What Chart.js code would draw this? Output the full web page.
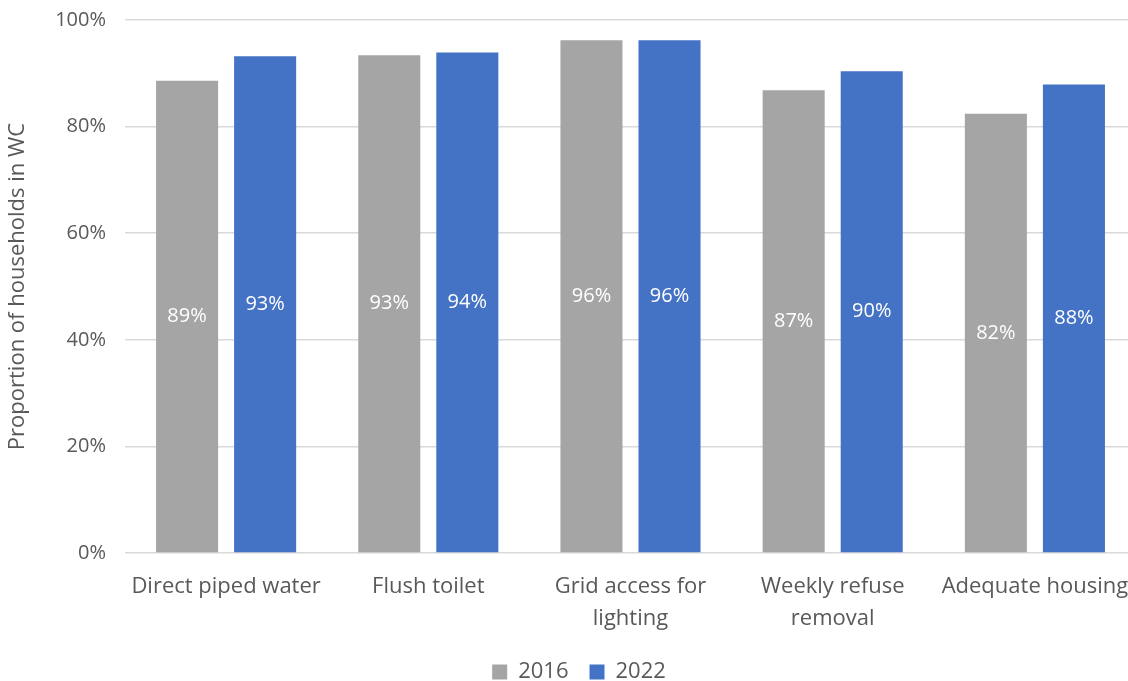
<!DOCTYPE html>
<html>
<head>
<meta charset="utf-8">
<script src="https://cdn.jsdelivr.net/npm/chart.js@4"></script>
<style>
  html, body { margin: 0; padding: 0; background: #fff; overflow: hidden; }
  #wrap { width: 1136px; height: 693px; position: relative; }
</style>
</head>
<body>
<div id="wrap"><canvas id="chart"></canvas></div>
<script>
// Service categories (multi-line entries wrap onto two lines)
const categories = [
  'Direct piped water',
  'Flush toilet',
  ['Grid access for', 'lighting'],
  ['Weekly refuse', 'removal'],
  'Adequate housing'
];
// Share of households with access, per year (%)
const values2016 = [88.6, 93.4, 96.2, 86.8, 82.4];
const values2022 = [93.2, 93.9, 96.2, 90.4, 87.9];
const seriesNames = ['2016', '2022'];
const yTicks = [0, 20, 40, 60, 80, 100];

const FONT = '"Open Sans", "Noto Sans", sans-serif';
const TEXT = '#595959';
const NONE = 'rgba(0,0,0,0)';

// Writes each bar's rounded value in the middle of the bar
const barValueLabels = {
  id: 'barValueLabels',
  afterDatasetsDraw(chart) {
    const ctx = chart.ctx;
    ctx.save();
    ctx.font = '20px ' + FONT;
    ctx.fillStyle = '#ffffff';
    ctx.textAlign = 'center';
    ctx.textBaseline = 'middle';
    chart.data.datasets.forEach((ds, di) => {
      chart.getDatasetMeta(di).data.forEach((bar, i) => {
        const mid = (bar.y + bar.base) / 2;
        ctx.fillText(Math.round(ds.data[i]) + '%', bar.x, mid);
      });
    });
    ctx.restore();
  }
};

// Nudges the legend a little to the right of the canvas centre
const legendShift = {
  id: 'legendShift',
  afterLayout(chart) {
    if (chart.legend) {
      chart.legend.left += 11;
      chart.legend.right += 11;
    }
  }
};

new Chart(document.getElementById('chart'), {
  type: 'bar',
  data: {
    labels: categories,
    datasets: [
      { label: seriesNames[0], data: values2016, backgroundColor: '#A5A5A5' },
      { label: seriesNames[1], data: values2022, backgroundColor: '#4472C4' }
    ]
  },
  options: {
    responsive: true,
    maintainAspectRatio: false,
    animation: false,
    layout: { padding: 0 },
    datasets: { bar: { categoryPercentage: 0.772, barPercentage: 0.795 } },
    scales: {
      x: {
        afterFit(scale) { scale.height = 87; },
        grid: {
          color: NONE, drawOnChartArea: false,
          drawTicks: true, tickLength: 18, tickColor: NONE
        },
        border: { display: false },
        ticks: {
          color: TEXT,
          font: { family: FONT, size: 22, lineHeight: 1.45 },
          padding: 0,
          maxRotation: 0,
          autoSkip: false
        }
      },
      y: {
        min: 0,
        max: 100,
        afterBuildTicks(scale) {
          scale.ticks = yTicks.map(v => ({ value: v }));
        },
        afterFit(scale) { scale.width = 125; },
        grid: {
          color: '#D9D9D9', lineWidth: 1.5,
          drawTicks: true, tickLength: 11, tickColor: NONE
        },
        border: { display: false },
        ticks: {
          color: TEXT,
          font: { family: FONT, size: 20 },
          padding: 8,
          callback: v => v + '%'
        },
        title: {
          display: true,
          text: 'Proportion of households in WC',
          color: TEXT,
          font: { family: FONT, size: 22 },
          padding: { top: 5, bottom: 0 }
        }
      }
    },
    plugins: {
      legend: {
        position: 'bottom',
        labels: {
          color: TEXT,
          font: { family: FONT, size: 22 },
          boxWidth: 15,
          boxHeight: 15,
          padding: 21
        }
      },
      tooltip: { enabled: false }
    }
  },
  plugins: [barValueLabels, legendShift]
});
</script>
</body>
</html>
